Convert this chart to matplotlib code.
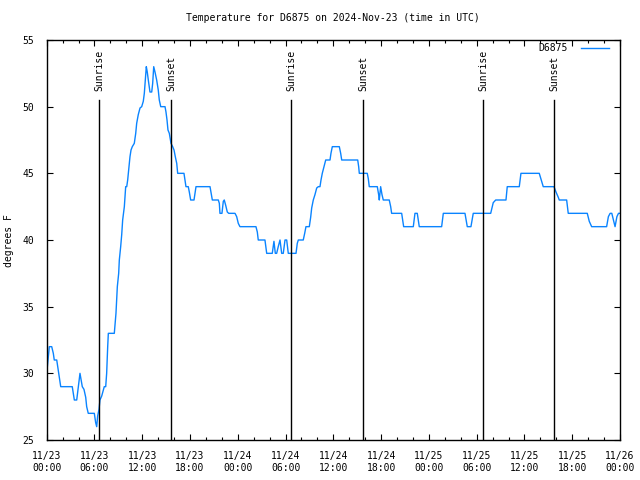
import matplotlib
matplotlib.use("Agg")
import matplotlib.pyplot as plt
from matplotlib.ticker import MultipleLocator, FixedLocator

# hours since 2024-11-23 00:00 UTC
hours = [0, 0.16, 0.33, 0.63, 0.83, 0.95, 1.26, 1.33, 1.46, 1.58, 1.76, 3.21, 3.47, 3.77, 3.97,
         4.18, 4.47, 4.68, 4.90, 5.02, 5.22, 5.98, 6.15, 6.28, 6.40, 6.57, 6.69, 6.91, 7.23, 7.41,
         7.53, 7.66, 7.74, 8.49, 8.70, 8.87, 9.04, 9.12, 9.29, 9.42, 9.54, 9.75, 9.92, 10.05, 10.17,
         10.34, 10.46, 10.59, 10.75, 11.00, 11.18, 11.30, 11.50, 11.72, 11.93, 12.13, 12.26, 12.38,
         12.51, 12.63, 12.76, 12.97, 13.19, 13.31, 13.44, 13.60, 13.81, 14.01, 14.14, 14.32, 14.86,
         14.98, 15.11, 15.23, 15.40, 15.61, 15.82, 15.99, 16.15, 16.33, 16.45, 17.24, 17.37, 17.49,
         17.78, 17.91, 18.08, 18.50, 18.75, 20.51, 20.63, 20.80, 21.55, 21.68, 21.76, 22.01, 22.18,
         22.30, 22.48, 22.68, 22.86, 23.65, 23.86, 24.06, 24.27, 26.28, 26.45, 26.57, 27.41, 27.54,
         27.63, 28.33, 28.54, 28.71, 28.88, 29.08, 29.30, 29.51, 29.71, 29.93, 30.14, 30.34, 31.31,
         31.47, 31.60, 32.22, 32.40, 32.56, 32.98, 33.15, 33.28, 33.48, 33.69, 33.91, 34.11, 34.32,
         34.45, 34.61, 34.82, 35.04, 35.58, 35.70, 35.87, 36.75, 36.92, 37.05, 39.06, 39.18, 39.26,
         40.26, 40.39, 40.51, 41.52, 41.69, 41.77, 41.94, 42.11, 42.27, 43.02, 43.20, 43.32, 44.58,
         44.71, 44.83, 46.04, 46.25, 46.54, 46.79, 49.60, 49.81, 52.53, 52.82, 53.28, 53.57, 55.76,
         56.08, 56.39, 57.68, 57.84, 59.35, 59.56, 61.86, 62.16, 62.36, 63.71, 63.96, 64.25, 64.37,
         65.30, 65.50, 67.89, 68.14, 68.44, 70.32, 70.54, 70.76, 70.97, 71.17, 71.38, 71.61, 71.81,
         72.0]
temps = [30, 31, 32, 32, 31.5, 31, 31, 30.7, 30.2, 29.7, 29, 29, 28, 28, 29,
         30, 29, 28.8, 28.2, 27.5, 27, 27, 26.3, 26, 26.8, 27.3, 28, 28.3, 29, 29,
         30, 32, 33, 33, 34.5, 36.5, 37.5, 38.5, 39.5, 40.4, 41.5, 42.5, 44, 44, 44.5,
         45.5, 46.25, 46.75, 47, 47.25, 48, 48.75, 49.4, 49.9, 50, 50.4, 51, 52,
         53, 52.6, 52, 51.1, 51.1, 51.75, 53, 52.6, 52, 51.25, 50.5, 50, 50,
         49.6, 49, 48.25, 48, 47.25, 47, 46.75, 46.25, 45.75, 45, 45, 44.5, 44,
         44, 43.6, 43, 43, 44, 44, 43.6, 43, 43, 42.75, 42, 42, 42.9,
         43, 42.6, 42.1, 42, 42, 41.75, 41.25, 41, 41, 40.6, 40, 40, 39.4,
         39, 39, 39.9, 39, 39, 39.5, 40, 39, 39, 40, 40, 39, 39,
         39.75, 40, 40, 40.5, 41, 41, 41.7, 42.4, 43, 43.4, 43.9, 44, 44,
         44.5, 45, 45.5, 46, 46, 46.5, 47, 47, 46.5, 46, 46, 45.5, 45,
         45, 44.6, 44, 44, 43.4, 43, 44, 43.4, 43, 43, 42.5, 42, 42,
         41.5, 41, 41, 42, 42, 41, 41, 42, 42, 41, 41, 42, 42,
         42.8, 43, 43, 44, 44, 45, 45, 44.4, 44, 44, 43.6, 43.2, 43,
         43, 42, 42, 41.4, 41, 41, 41.75, 42, 42, 41.5, 41, 41.75, 42,
         42]

sun_events = [6.6, 15.65, 30.72, 39.76, 54.83, 63.74]
sun_labels = ["Sunrise", "Sunset", "Sunrise", "Sunset", "Sunrise", "Sunset"]

xtick_hours = list(range(0, 73, 6))
xtick_labels = ["11/23\n00:00", "11/23\n06:00", "11/23\n12:00", "11/23\n18:00",
                "11/24\n00:00", "11/24\n06:00", "11/24\n12:00", "11/24\n18:00",
                "11/25\n00:00", "11/25\n06:00", "11/25\n12:00", "11/25\n18:00",
                "11/26\n00:00"]
yticks = [25, 30, 35, 40, 45, 50, 55]

plt.rcParams['font.family'] = ['DejaVu Sans Mono']
FS = 7

fig = plt.figure(figsize=(6.4, 4.8), dpi=100)
ax = fig.add_axes([46.7/640, 40/480, (620-46.7)/640, 400/480])

ax.plot(hours, temps, color='#0a84ff', lw=1.0, label='D6875')

for h, lab in zip(sun_events, sun_labels):
    ax.plot([h, h], [25, 50.5], color='black', lw=1.0)
    ax.text(h, 51.2, lab, rotation=90, ha='center', va='bottom', fontsize=FS)

ax.set_xlim(0, 72)
ax.set_ylim(25, 55)
ax.set_xticks(xtick_hours)
ax.set_xticklabels(xtick_labels, fontsize=FS, linespacing=1.25)
ax.xaxis.set_minor_locator(MultipleLocator(2))
ax.set_yticks(yticks)
ax.set_yticklabels([str(v) for v in yticks], fontsize=FS)
ax.tick_params(axis='both', which='major', direction='in', length=4, width=0.8,
               top=True, right=True, pad=8)
ax.tick_params(axis='x', which='minor', direction='in', length=2.5, width=0.8,
               top=True, bottom=True)
ax.tick_params(axis='y', which='major', pad=9)
for s in ax.spines.values():
    s.set_linewidth(1.0)

ax.set_title("Temperature for D6875 on 2024-Nov-23 (time in UTC)", fontsize=FS, pad=14)
fig.text(9/640, 1 - 241/480, "degrees F", rotation=90, ha='center', va='center', fontsize=FS)

ax.legend(loc='upper right', bbox_to_anchor=((609-46.7)/573.3, (440-43)/400),
          frameon=False, fontsize=FS, handlelength=2.9, handletextpad=1.3,
          markerfirst=False, borderpad=0, borderaxespad=0)

fig.savefig("out.png", dpi=100)
